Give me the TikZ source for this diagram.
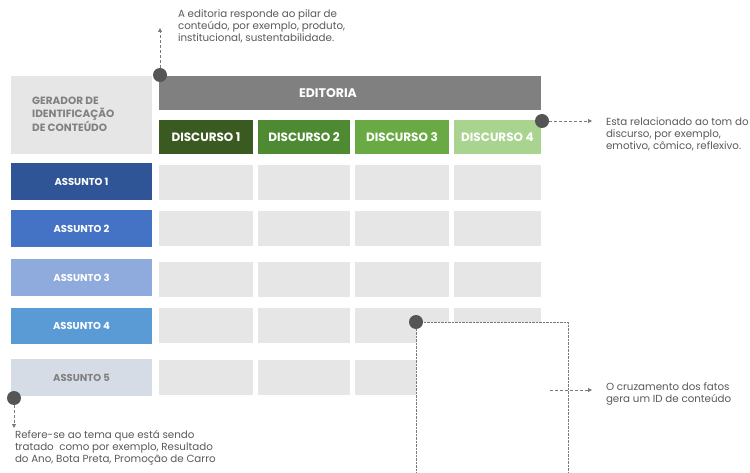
\documentclass[tikz,border=0pt]{standalone}
\usepackage{fontspec}
\setmainfont{Poppins}
\usetikzlibrary{arrows.meta}
\definecolor{panel}{HTML}{E6E6E6}
\definecolor{editoria}{HTML}{808080}
\definecolor{dA}{HTML}{3A5A22}
\definecolor{dB}{HTML}{4E8A32}
\definecolor{dC}{HTML}{6AAA44}
\definecolor{dD}{HTML}{A8D490}
\definecolor{aA}{HTML}{2F5597}
\definecolor{aB}{HTML}{4472C4}
\definecolor{aC}{HTML}{8FAADC}
\definecolor{aD}{HTML}{5B9BD5}
\definecolor{aE}{HTML}{D6DCE5}
\definecolor{dotc}{HTML}{555555}
\definecolor{note}{HTML}{5A5A5A}
\definecolor{linec}{HTML}{7A7A7A}
\tikzset{
  blk/.style={rectangle, inner sep=0pt, outer sep=0pt, anchor=north west},
  lbl/.style={blk, text=white, font=\bfseries\fontsize{12}{14}\selectfont},
  alb/.style={blk, text=white, font=\bfseries\fontsize{10}{12}\selectfont},
  marker/.style={circle, fill=dotc, inner sep=0pt, minimum size=14pt},
  notetext/.style={blk, text=note, align=left, font=\fontsize{10.3}{12}\selectfont},
  lead/.style={draw=linec, line width=0.8pt, dash pattern=on 3pt off 2pt,
    -{Triangle[length=4pt,width=4pt]}},
}
\begin{document}
\begin{tikzpicture}[x=1pt,y=-1pt]
\useasboundingbox (0,0) rectangle (750,473);
\fill[white] (0,0) rectangle (750,473);

% header blocks
\node[blk, fill=panel, minimum width=141pt, minimum height=78pt] (gerador) at (11,76) {};
\node[anchor=north west, inner sep=0pt, text=editoria, align=left,
  font=\bfseries\fontsize{10.5}{12.5}\selectfont] (geradortxt) at (32,97)
  {GERADOR DE\\IDENTIFICAÇÃO\\DE CONTEÚDO};
\node[blk, fill=editoria, minimum width=382pt, minimum height=34pt] (editoria) at (159,76) {};
\node[text=white, inner sep=0pt, font=\bfseries\fontsize{12.5}{14}\selectfont]
  (editoriatxt) at (328,93) {EDITORIA};

% discourse columns
\node[lbl, fill=dA, minimum width=94pt, minimum height=34pt] (d1) at (159,120) {DISCURSO 1};
\node[lbl, fill=dB, minimum width=92pt, minimum height=34pt] (d2) at (258,120) {DISCURSO 2};
\node[lbl, fill=dC, minimum width=94pt, minimum height=34pt] (d3) at (355,120) {DISCURSO 3};
\node[lbl, fill=dD, minimum width=87pt, minimum height=34pt] (d4) at (454,120) {DISCURSO 4};

% subject rows
\node[alb, fill=aA, minimum width=141pt, minimum height=37pt] (a1) at (11,163) {ASSUNTO 1};
\node[alb, fill=aB, minimum width=141pt, minimum height=37pt] (a2) at (11,210) {ASSUNTO 2};
\node[alb, fill=aC, minimum width=141pt, minimum height=37pt] (a3) at (11,259) {ASSUNTO 3};
\node[alb, fill=aD, minimum width=141pt, minimum height=36pt] (a4) at (11,308) {ASSUNTO 4};
\node[alb, fill=aE, minimum width=141pt, minimum height=37pt, text=editoria] (a5) at (11,359) {ASSUNTO 5};

% empty grid cells
\foreach \r/\y in {1/165,2/211,3/262,4/308,5/360}{
  \foreach \c/\x/\w in {1/159/94,2/258/92,3/355/94,4/454/87}{
    \node[blk, fill=panel, minimum width=\w pt, minimum height=35pt] (c\r\c) at (\x,\y) {};
  }
}

% content-ID box
\node[blk, fill=white, minimum width=152pt, minimum height=170pt] (idbox) at (416,322) {};
\draw[linec, line width=0.6pt, dash pattern=on 0.8pt off 0.6pt]
  (idbox.south west) -- (idbox.north west) -- (idbox.north east) -- (idbox.south east);

% markers
\node[marker] (mtop) at (160,75) {};
\node[marker] (mright) at (542,121) {};
\node[marker] (mleft) at (14,398) {};
\node[marker] (mbox) at (416,322) {};

% notes
\node[notetext] (ntop) at (178,10)
  {A editoria responde ao pilar de\\conteúdo, por exemplo, produto,\\institucional, sustentabilidade.};
\node[notetext] (nright) at (606,118)
  {Esta relacionado ao tom do\\discurso, por exemplo,\\emotivo, cômico, reflexivo.};
\node[notetext] (nleft) at (15,430)
  {Refere-se ao tema que está sendo\\tratado\ \ como por exemplo, Resultado\\do Ano, Bota Preta, Promoção de Carro};
\node[notetext] (nbox) at (606,383)
  {O cruzamento dos fatos\\gera um ID de conteúdo};

% leader arrows
\coordinate (ttop) at (160,28);
\coordinate (tright) at (592,121);
\coordinate (tleft) at (14,428);
\coordinate (sbox) at (550,390);
\coordinate (tbox) at (592,390);
\draw[lead] (mtop) -- (ttop);
\draw[lead] (mright) -- (tright);
\draw[lead] (mleft) -- (tleft);
\draw[lead] (sbox) -- (tbox);
\end{tikzpicture}
\end{document}
